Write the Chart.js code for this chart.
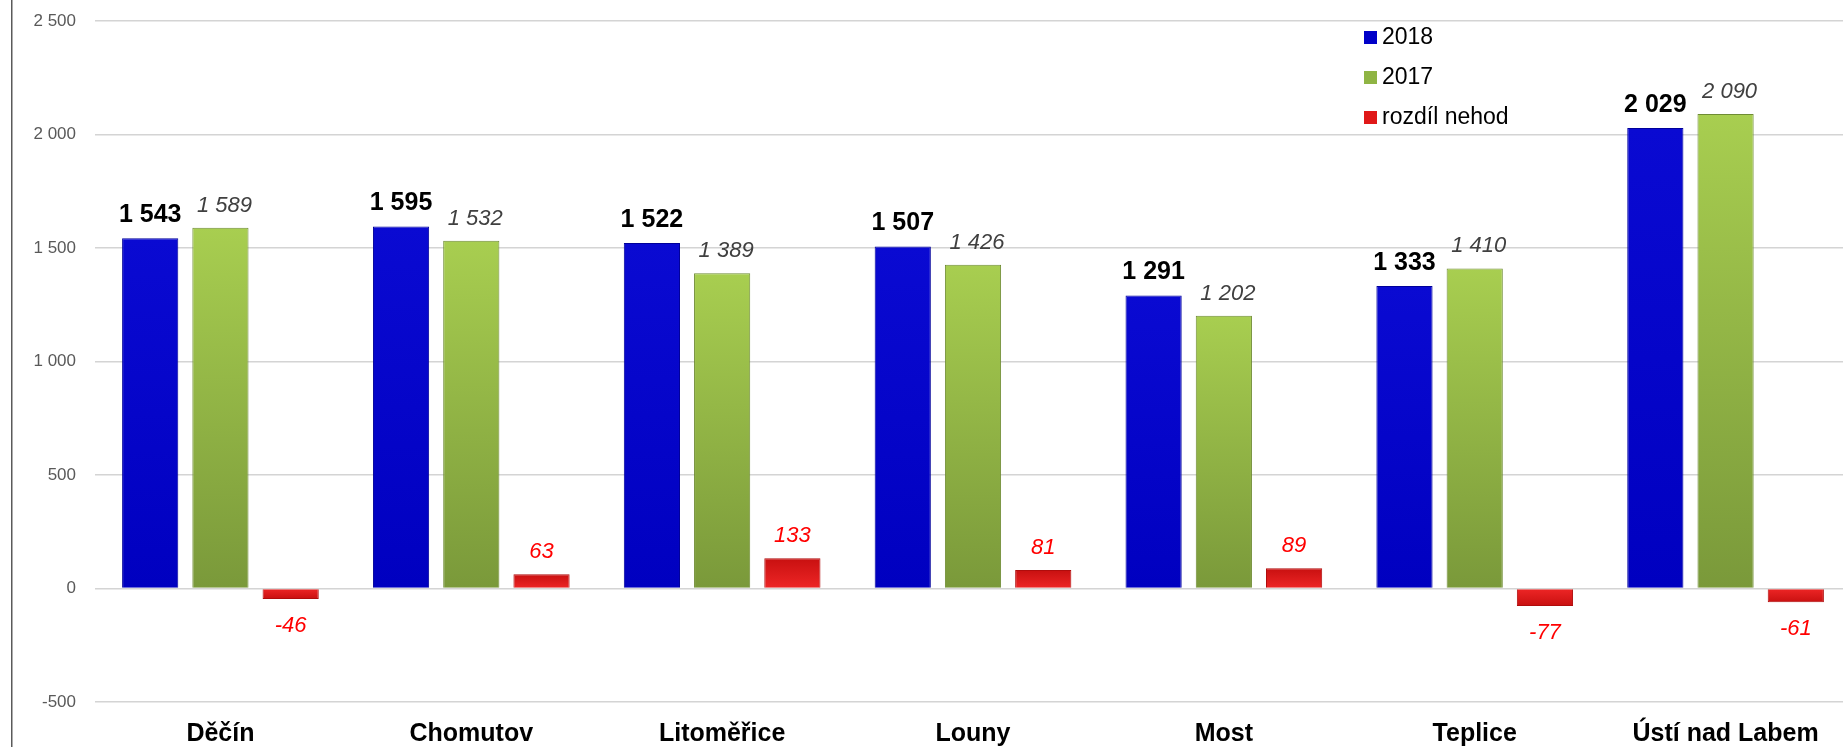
<!DOCTYPE html>
<html>
<head>
<meta charset="utf-8">
<script src="https://cdn.jsdelivr.net/npm/chart.js@4.4.1/dist/chart.umd.min.js"></script>
<style>
  html, body { margin: 0; padding: 0; overflow: hidden; background: #fff; }
</style>
</head>
<body>
<canvas id="myChart" width="1851" height="747"></canvas>
<script>
// data
const okresy = ['Děčín', 'Chomutov', 'Litoměřice', 'Louny', 'Most', 'Teplice', 'Ústí nad Labem'];
const nehody2018 = [1543, 1595, 1522, 1507, 1291, 1333, 2029];
const nehody2017 = [1589, 1532, 1389, 1426, 1202, 1410, 2090];
const rozdilNehod = [-46, 63, 133, 81, 89, -77, -61];
const yTicks = [-500, 0, 500, 1000, 1500, 2000, 2500];

const FONT = '"Liberation Sans", Arial, sans-serif';

const fmt = n => (n < 0 ? '-' : '') + String(Math.abs(n)).replace(/\B(?=(\d{3})+(?!\d))/g, ' ');

// per-bar vertical gradient, computed from the y scale
function barFill(light, dark) {
  return c => {
    const chart = c.chart;
    const y = chart.scales && chart.scales.y;
    if (c.type !== 'data' || !y) return dark;
    const top = y.getPixelForValue(c.raw);
    const base = y.getPixelForValue(0);
    if (!isFinite(top) || Math.abs(top - base) < 1) return dark;
    const g = chart.ctx.createLinearGradient(0, top, 0, base);
    g.addColorStop(0, light);
    g.addColorStop(1, dark);
    return g;
  };
}

const legendColors = ['#0000c8', '#8fb444', '#e01818'];

const frameLine = {
  id: 'frameLine',
  beforeDraw(chart) {
    const ctx = chart.ctx;
    ctx.save();
    ctx.fillStyle = '#5a5a5a';
    ctx.fillRect(11, 0, 1.5, chart.height);
    ctx.restore();
  }
};

const valueLabels = {
  id: 'valueLabels',
  afterDatasetsDraw(chart) {
    const ctx = chart.ctx;
    const styles = [
      { font: 'bold 25px ' + FONT, color: '#000000', dx: 0 },
      { font: 'italic 22px ' + FONT, color: '#404040', dx: 4 },
      { font: 'italic 22px ' + FONT, color: '#ff0000', dx: 0 }
    ];
    ctx.save();
    ctx.textAlign = 'center';
    chart.data.datasets.forEach((ds, i) => {
      const meta = chart.getDatasetMeta(i);
      const st = styles[i];
      ctx.font = st.font;
      ctx.fillStyle = st.color;
      meta.data.forEach((bar, j) => {
        const v = ds.data[j];
        if (v >= 0) {
          ctx.textBaseline = 'alphabetic';
          ctx.fillText(fmt(v), bar.x + st.dx, bar.y - 16);
        } else {
          ctx.textBaseline = 'top';
          ctx.fillText(fmt(v), bar.x + st.dx, bar.y + 16);
        }
      });
    });
    ctx.restore();
  }
};

const insideLegend = {
  id: 'insideLegend',
  afterDraw(chart) {
    const ctx = chart.ctx;
    ctx.save();
    ctx.font = '23px ' + FONT;
    ctx.textBaseline = 'middle';
    ctx.textAlign = 'left';
    chart.data.datasets.forEach((ds, i) => {
      const y = 37 + i * 40;
      ctx.fillStyle = legendColors[i];
      ctx.fillRect(1364, y - 6, 13, 13);
      ctx.fillStyle = '#000';
      ctx.fillText(ds.label, 1382, y + 1);
    });
    ctx.restore();
  }
};

const ctx = document.getElementById('myChart');

new Chart(ctx, {
  type: 'bar',
  data: {
    labels: okresy,
    datasets: [
      {
        label: '2018',
        data: nehody2018,
        backgroundColor: barFill('#0a0ad2', '#0000c0'),
        borderColor: '#00009a',
        borderWidth: 1
      },
      {
        label: '2017',
        data: nehody2017,
        backgroundColor: barFill('#a8ce50', '#7a993a'),
        borderColor: '#6f8c34',
        borderWidth: 1
      },
      {
        label: 'rozdíl nehod',
        data: rozdilNehod,
        backgroundColor: barFill('#c81010', '#ee2626'),
        borderColor: '#b00c0c',
        borderWidth: 1
      }
    ]
  },
  options: {
    responsive: false,
    animation: false,
    layout: { padding: { top: 21, right: 0, bottom: 0, left: 0 } },
    datasets: {
      bar: { categoryPercentage: 0.84, barPercentage: 0.8 }
    },
    plugins: {
      legend: { display: false },
      tooltip: { enabled: false }
    },
    scales: {
      x: {
        grid: { display: false },
        border: { display: false },
        ticks: {
          color: '#000',
          font: { family: FONT, size: 25, weight: 'bold' },
          padding: 9,
          maxRotation: 0,
          autoSkip: false
        },
        afterFit: s => { s.height = 45; }
      },
      y: {
        min: -500,
        max: 2500,
        afterBuildTicks: s => { s.ticks = yTicks.map(v => ({ value: v })); },
        grid: { color: '#d4d4d4', lineWidth: 1.5, drawTicks: false },
        border: { display: false },
        ticks: {
          color: '#595959',
          font: { family: FONT, size: 17 },
          padding: 19,
          callback: v => fmt(v)
        },
        afterFit: s => { s.width = 95; s.paddingTop = 0; s.paddingBottom = 0; }
      }
    }
  },
  plugins: [frameLine, valueLabels, insideLegend]
});
</script>
</body>
</html>
